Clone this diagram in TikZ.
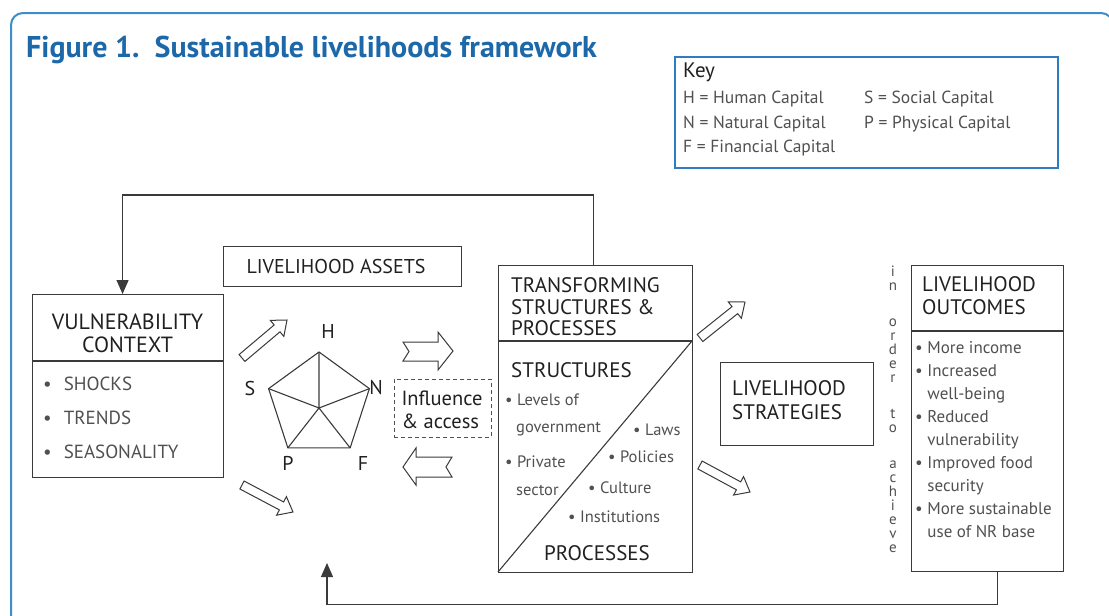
\documentclass[tikz,border=0pt]{standalone}
\usepackage{fontspec}
\setmainfont{PT Sans}
\usetikzlibrary{calc,arrows.meta}
\definecolor{frameblue}{HTML}{3E8CC8}
\definecolor{titleblue}{HTML}{1C68A8}
\definecolor{keyblue}{HTML}{2F7DC0}
\definecolor{boxc}{HTML}{3A3A3A}
\definecolor{headc}{HTML}{202020}
\definecolor{itemc}{HTML}{505050}
\newcommand\openarrow[5]{%
  \coordinate (oaA) at (#1);
  \coordinate (oaB) at (#2);
  \coordinate (oaH) at ($(oaB)!#5!(oaA)$);
  \draw[openarr] ($(oaA)!#3!90:(oaB)$) -- ($(oaH)!#3!-90:(oaA)$) -- ($(oaH)!#4!-90:(oaA)$) -- (oaB) -- ($(oaH)!#4!90:(oaA)$) -- ($(oaH)!#3!90:(oaA)$) -- ($(oaA)!#3!-90:(oaB)$) -- cycle;}
\begin{document}
\begin{tikzpicture}[x=1pt,y=-1pt,
  box/.style={draw=boxc, line width=1.1pt, inner sep=0pt, anchor=north west},
  headtxt/.style={font=\fontsize{21}{23}\selectfont, text=headc, inner sep=0pt},
  itemtxt/.style={font=\fontsize{16.5}{22.9}\selectfont, text=itemc, inner sep=0pt, anchor=west},
  keytxt/.style={font=\fontsize{17.5}{18}\selectfont, text=itemc, inner sep=0pt, anchor=west},
  captxt/.style={font=\fontsize{20}{20}\selectfont, text=headc, inner sep=0pt},
  openarr/.style={draw=boxc, line width=1pt, fill=white, line join=miter},
  fbline/.style={draw=boxc, line width=1.2pt, -{Triangle[length=14pt,width=12pt]}},
  divline/.style={draw=boxc, line width=1.1pt}]
\useasboundingbox (0,0) rectangle (1109,616);
\clip (0,0) rectangle (1109,616);
% outer frame
\draw[frameblue, line width=2pt, rounded corners=12pt] (11,13) rectangle (1113,680);
% title
\node[font=\bfseries\fontsize{30}{30}\selectfont, text=titleblue, anchor=west, inner sep=0pt] (title) at (26,50) {Figure 1.\ \ Sustainable livelihoods framework};
% key
\node[draw=keyblue, line width=1.5pt, anchor=north west, minimum width=383pt, minimum height=111pt, inner sep=0pt] (key) at (674,56) {};
\node[font=\fontsize{21}{21}\selectfont, text=headc, anchor=west, inner sep=0pt] (keyt) at (683,72) {Key};
\node[keytxt] (k1) at (683,99) {H = Human Capital};
\node[keytxt] (k2) at (683,124) {N = Natural Capital};
\node[keytxt] (k3) at (683,148) {F = Financial Capital};
\node[keytxt] (k4) at (864,99) {S = Social Capital};
\node[keytxt] (k5) at (864,124) {P = Physical Capital};
% vulnerability context
\node[box, minimum width=191pt, minimum height=183pt] (vc) at (32,294) {};
\draw[divline] (32,361) -- (223,361);
\node[headtxt, align=center, font=\fontsize{22}{23}\selectfont] (vct) at (127.5,333.5) {VULNERABILITY\\CONTEXT};
\node[font=\fontsize{19}{19}\selectfont, text=itemc, anchor=west, inner sep=0pt] (vc1) at (43,384) {•\hspace{12pt}SHOCKS};
\node[font=\fontsize{19}{19}\selectfont, text=itemc, anchor=west, inner sep=0pt] (vc2) at (43,418) {•\hspace{12pt}TRENDS};
\node[font=\fontsize{19}{19}\selectfont, text=itemc, anchor=west, inner sep=0pt] (vc3) at (43,452) {•\hspace{12pt}SEASONALITY};
% livelihood assets
\node[box, minimum width=238pt, minimum height=40pt] (la) at (223,246) {};
\node[headtxt, font=\fontsize{20}{20}\selectfont] (lat) at (336,266) {LIVELIHOOD ASSETS};
% pentagon
\coordinate (pc) at (319,405);
\coordinate (pH) at ($(pc)+(-90:53)$);
\coordinate (pN) at ($(pc)+(-18:53)$);
\coordinate (pF) at ($(pc)+(54:53)$);
\coordinate (pP) at ($(pc)+(126:53)$);
\coordinate (pS) at ($(pc)+(198:53)$);
\coordinate (pm) at (319,408);
\draw[boxc, line width=1.1pt, line join=miter] (pH) -- (pN) -- (pF) -- (pP) -- (pS) -- cycle;
\draw[boxc, line width=1.1pt] (pm) -- (pH) (pm) -- (pN) (pm) -- (pF) (pm) -- (pP) (pm) -- (pS);
\node[captxt] (lH) at (328,331) {H};
\node[captxt] (lS) at (250,388) {S};
\node[captxt] (lN) at (376,387) {N};
\node[captxt] (lP) at (288,463) {P};
\node[captxt] (lF) at (363,463) {F};
% open arrows
\openarrow{242,358}{287,320}{4.5pt}{10.5pt}{13pt}
\openarrow{242,485}{293,512}{4.5pt}{10.5pt}{13pt}
\openarrow{700,338}{745,302}{4.5pt}{10.5pt}{13pt}
\openarrow{700,465}{750,492}{4.5pt}{10.5pt}{13pt}
\draw[openarr] (403,342) -- (438,342) -- (438,332) -- (453,351) -- (438,370) -- (438,361) -- (403,361) -- (409,351.5) -- cycle;
\draw[openarr] (452,457) -- (416,457) -- (416,448) -- (403,467) -- (416,485) -- (416,477) -- (452,477) -- (446,467) -- cycle;
% influence & access
\node[draw=itemc, line width=0.9pt, dash pattern=on 4pt off 3pt, minimum width=97pt, minimum height=58pt, inner sep=0pt, anchor=north west] (ia) at (394,379) {};
\node[font=\fontsize{20.5}{23}\selectfont, text=headc, align=left, inner sep=0pt] (iat) at (442,410) {Influence\\\& access};
% transforming structures & processes
\node[box, minimum width=194pt, minimum height=307pt] (tsp) at (498,265) {};
\draw[divline] (498,341) -- (692,341);
\draw[divline] (498,572) -- (692,341);
\node[headtxt, align=left, anchor=west, font=\fontsize{21}{21.5}\selectfont] (tspt) at (511,307) {TRANSFORMING\\STRUCTURES \&\\PROCESSES};
\node[headtxt, anchor=west] (st) at (511,370) {STRUCTURES};
\node[itemtxt] (s1) at (505,400) {• Levels of};
\node[itemtxt] (s2) at (516,429) {government};
\node[itemtxt] (s3) at (505,462) {• Private};
\node[itemtxt] (s4) at (516,490) {sector};
\node[itemtxt] (p1) at (633,430) {• Laws};
\node[itemtxt] (p2) at (608,457) {• Policies};
\node[itemtxt] (p3) at (588,488) {• Culture};
\node[itemtxt] (p4) at (568,517) {• Institutions};
\node[headtxt] (pr) at (597,553) {PROCESSES};
% livelihood strategies
\node[box, minimum width=153pt, minimum height=83pt] (ls) at (720,362) {};
\node[headtxt, align=left, anchor=west, font=\fontsize{21}{24}\selectfont] (lst) at (732,400) {LIVELIHOOD\\STRATEGIES};
% in order to achieve
\node[font=\fontsize{15}{14}\selectfont, text=itemc, align=center, inner sep=0pt, anchor=north] (ioa) at (893,266) {i\\n\\[22pt]o\\r\\d\\e\\r\\[22pt]t\\o\\[22pt]a\\c\\h\\i\\e\\v\\e};
% livelihood outcomes
\node[box, minimum width=152pt, minimum height=306pt] (lo) at (911,265) {};
\draw[divline] (911,331) -- (1063,331);
\node[headtxt, align=left, anchor=west] (lot) at (922,296) {LIVELIHOOD\\OUTCOMES};
\node[itemtxt, align=left, font=\fontsize{17}{22.9}\selectfont] (loi) at (915,439.5) {• More income\\• Increased\\\hphantom{• }well-being\\• Reduced\\\hphantom{• }vulnerability\\• Improved food\\\hphantom{• }security\\• More sustainable\\\hphantom{• }use of NR base};
% feedback connectors
\coordinate (assetin) at (327,563);
\draw[fbline] ([xshift=-2pt]tsp.north) -- ++(0,-70) -| ([xshift=-5.5pt]vc.north);
\draw[fbline] ([xshift=10pt]lo.south) -- ++(0,32) -| (assetin);
\end{tikzpicture}
\end{document}
